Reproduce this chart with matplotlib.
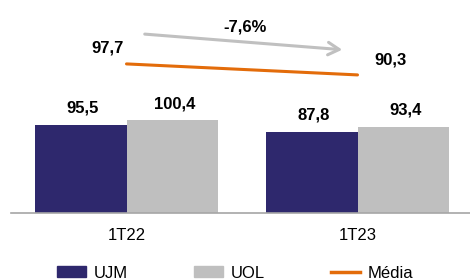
import matplotlib

matplotlib.use("Agg")
import matplotlib.pyplot as plt
from matplotlib.lines import Line2D
from matplotlib.patches import Patch

periods = ["1T22", "1T23"]
ujm = [95.5, 87.8]
uol = [100.4, 93.4]
media = [97.7, 90.3]
change_label = "-7,6%"

navy = "#2e286d"
gray = "#bfbfbf"
orange = "#e36c0a"
arrow_gray = "#c0c0c0"
axis_gray = "#a6a6a6"

plt.rcParams["font.family"] = ["Liberation Sans", "DejaVu Sans"]


def fmt(v):
    return f"{v:.1f}".replace(".", ",")


fig = plt.figure(figsize=(4.7, 2.8), dpi=100)
ax = fig.add_axes([11 / 470, 67 / 280, 459 / 470, 213 / 280])
width = 0.396
x = range(len(periods))
b1 = ax.bar([i - width / 2 for i in x], ujm, width, color=navy)
b2 = ax.bar([i + width / 2 for i in x], uol, width, color=gray)
for bars, vals in ((b1, ujm), (b2, uol)):
    for rect, v in zip(bars, vals):
        ax.annotate(fmt(v), (rect.get_x() + rect.get_width() / 2, v),
                    xytext=(2, 9), textcoords="offset pixels",
                    ha="center", va="bottom", fontsize=12, fontweight="bold")
ax.set_xlim(-0.5, 1.487)
ax.set_ylim(0, 230)
for s in ("top", "right", "left"):
    ax.spines[s].set_visible(False)
ax.spines["bottom"].set_color(axis_gray)
ax.spines["bottom"].set_linewidth(1.2)
ax.set_yticks([])
ax.set_xticks(list(x))
ax.set_xticklabels(periods, fontsize=12)
ax.tick_params(axis="x", length=0, pad=11)

ax2 = ax.twinx()
ax2.set_ylim(-2.6, 140.7)
ax2.axis("off")
ax2.plot(list(x), media, color=orange, lw=2.2, solid_capstyle="round")
ax2.annotate(fmt(media[0]), (0, media[0]), xytext=(-19, 8), textcoords="offset pixels",
             ha="center", va="bottom", fontsize=12, fontweight="bold")
ax2.annotate(fmt(media[1]), (1, media[1]), xytext=(33, 7), textcoords="offset pixels",
             ha="center", va="bottom", fontsize=12, fontweight="bold")

ax2.annotate("", xy=(0.946, media[1] + 16.8), xytext=(0.067, media[0] + 20.2),
             arrowprops=dict(arrowstyle="->,head_length=0.8,head_width=0.45",
                             color=arrow_gray, lw=2.2))
ax2.text(0.512, 122.6, change_label, ha="center", va="center",
         fontsize=12, fontweight="bold")

handles = [Patch(color=navy), Patch(color=gray), Line2D([], [], color=orange, lw=2.5)]
fig.legend(handles, ["UJM", "UOL", "Média"], loc="center", bbox_to_anchor=(0.5, 0.025),
           ncol=3, frameon=False, fontsize=12, handlelength=1.74, handleheight=0.6,
           handletextpad=0.48, columnspacing=3.95)

fig.savefig("out.png", dpi=100)
